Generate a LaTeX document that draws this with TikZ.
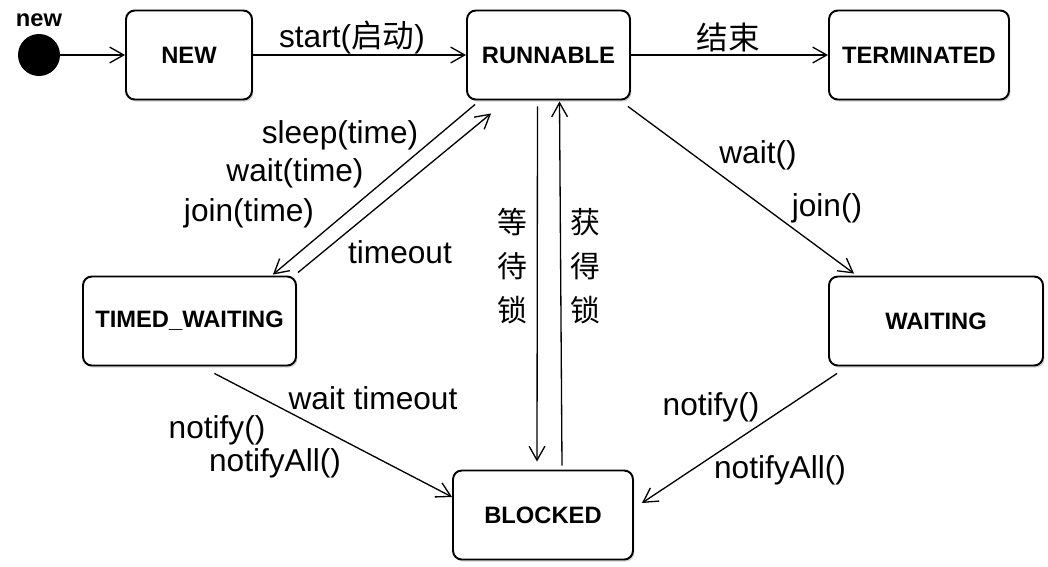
\documentclass[tikz,border=0pt]{standalone}
\usepackage{fontspec}
\setmainfont{Liberation Sans}
\newfontfamily\cjk{Noto Sans CJK SC}
\usetikzlibrary{arrows.meta,calc,shadows}

\begin{document}
\begin{tikzpicture}[x=0.02cm,y=-0.02cm,
  state/.style={draw,line width=1.1pt,rounded corners=5pt,fill=white,minimum height=1.78cm,
    font=\fontsize{13.5}{15}\selectfont\bfseries,
    drop shadow={shadow xshift=0.8pt,shadow yshift=-1.2pt,opacity=0.35}},
  trans/.style={-{Straight Barb[length=8pt,width=9pt]},line width=0.75pt},
  lbl/.style={font=\fontsize{18}{21}\selectfont},
  cjklbl/.style={align=center,font=\cjk\fontsize{17}{25}\selectfont}]
  \useasboundingbox (0,0) rectangle (1048,566);
  \node[circle,fill=black,minimum size=0.84cm,inner sep=0pt] (init) at (39,55) {};
  \node[font=\fontsize{13.5}{15}\selectfont\bfseries] (initlbl) at (39,20) {new};
  \node[state,minimum width=2.52cm] (new) at (189,55) {NEW};
  \node[state,minimum width=3.26cm] (run) at (548.5,55) {RUNNABLE};
  \node[state,minimum width=3.6cm] (term) at (919,55) {TERMINATED};
  \node[state,minimum width=4.26cm] (tw) at (189.5,321) {TIMED\_WAITING};
  \node[state,minimum width=4.28cm] (wait) at (936,321) {WAITING};
  \node[state,minimum width=3.6cm] (blk) at (543,515) {BLOCKED};

  \draw[trans] (init) -- (new);
  \draw[trans] (new) -- (run);
  \draw[trans] (run) -- (term);
  \draw[trans] ($(run.south west)+(9,4)$) -- ($(tw.north east)+(-24,-1)$);
  \draw[trans] ($(tw.north east)+(1,-3)$) -- ($(run.south west)+(25,13)$);
  \draw[trans] ($(run.south east)+(-3,6)$) -- ($(wait.north west)+(26,-2)$);
  \draw[trans] ($(run.south)+(-11,6)$) -- ($(blk.north)+(-6,-8)$);
  \draw[trans] ($(blk.north)+(19,-4)$) -- ($(run.south)+(11,1)$);
  \draw[trans] ($(tw.south)+(25,7)$) -- ($(blk.west)+(0,-18)$);
  \draw[trans] ($(wait.south west)+(9,7)$) -- ($(blk.east)+(8,-12)$);

  \node[lbl] (lstart) at (352,37) {start({\cjk 启动})};
  \node[lbl] (lend) at (728,37) {\cjk 结束};
  \node[lbl] (lsleep) at (340,135) {sleep(time)};
  \node[lbl] (lwaittime) at (295,173) {wait(time)};
  \node[lbl] (ljointime) at (249,213) {join(time)};
  \node[lbl] (ltimeout) at (400,252) {timeout};
  \node[lbl] (lwait) at (758,155) {wait()};
  \node[lbl] (ljoin) at (827,208) {join()};
  \node[cjklbl] (lwaitlock) at (512,266) {等\\待\\锁};
  \node[cjklbl] (lgetlock) at (585,266) {获\\得\\锁};
  \node[lbl] (lwaittimeout) at (373,398) {wait timeout};
  \node[lbl] (lnotify) at (217,430) {notify()};
  \node[lbl] (lnotifyall) at (275,463) {notifyAll()};
  \node[lbl] (rnotify) at (711,407) {notify()};
  \node[lbl] (rnotifyall) at (780,470) {notifyAll()};
\end{tikzpicture}
\end{document}
